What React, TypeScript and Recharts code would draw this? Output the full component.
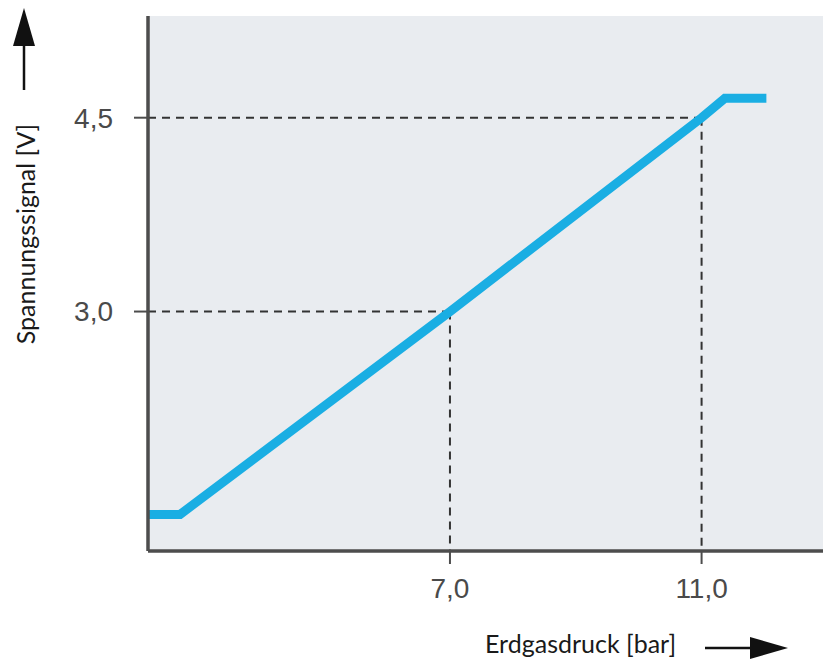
import React from "react";
import { LineChart, Line, XAxis, YAxis, CartesianGrid, ReferenceLine, Label } from "recharts";

// Erdgasdruck [bar] vs Spannungssignal [V]
const pressure = [2.2, 2.71, 7.0, 11.0, 11.37, 12.03];
const voltage = [1.43, 1.43, 3.0, 4.5, 4.65, 4.65];
const xTicks = [7.0, 11.0];
const yTicks = [3.0, 4.5];
const xDomain = [2.2, 12.93];
const yDomain = [1.147, 5.287];

const data = pressure.map((p, i) => ({ p, v: voltage[i] }));

const fmt = (v: number) => v.toFixed(1).replace(".", ",");

const YTitle = (props: any) => {
  const vb = props.viewBox || { x: 0, y: 16 };
  const cx = vb.x + 25;
  const cy = vb.y + 218;
  const ax = vb.x + 24;
  const top = vb.y - 8;
  return (
    <g>
      <text
        x={cx}
        y={cy}
        transform={`rotate(-90 ${cx} ${cy})`}
        textAnchor="middle"
        dominantBaseline="central"
        fontFamily="Lato, 'Noto Sans', sans-serif"
        fontSize={25}
        fill="#1a1a1a"
      >
        Spannungssignal [V]
      </text>
      <line x1={ax} y1={top + 36} x2={ax} y2={top + 82} stroke="#111" strokeWidth={2.5} />
      <polygon points={`${ax},${top} ${ax - 11},${top + 38} ${ax + 11},${top + 38}`} fill="#111" />
    </g>
  );
};

const XTitle = (props: any) => {
  const vb = props.viewBox || { x: 148, y: 551 };
  const tx = vb.x + 337;
  const ty = vb.y + 102;
  const ly = vb.y + 97;
  const lx = vb.x + 557;
  return (
    <g>
      <text
        x={tx}
        y={ty}
        textAnchor="start"
        fontFamily="Lato, 'Noto Sans', sans-serif"
        fontSize={25}
        fill="#1a1a1a"
      >
        Erdgasdruck [bar]
      </text>
      <line x1={lx} y1={ly} x2={lx + 48} y2={ly} stroke="#111" strokeWidth={2.5} />
      <polygon points={`${lx + 45},${ly - 11} ${lx + 83},${ly} ${lx + 45},${ly + 11}`} fill="#111" />
    </g>
  );
};

const dash = { stroke: "#333", strokeWidth: 2, strokeDasharray: "8 6" };

export default function App() {
  return (
    <div style={{ position: "absolute", left: 0, top: 0, width: 823, height: 661, background: "#ffffff" }}>
      <LineChart width={823} height={661} data={data} margin={{ top: 16, right: 0, bottom: 0, left: 0 }}>
        <CartesianGrid horizontal={false} vertical={false} fill="#e9ecf0" />
        <XAxis
          dataKey="p"
          type="number"
          domain={xDomain}
          ticks={xTicks}
          allowDataOverflow
          height={110}
          tickFormatter={fmt}
          tickSize={13}
          tickMargin={14}
          axisLine={{ stroke: "#4d4d4d", strokeWidth: 3.5 }}
          tickLine={{ stroke: "#4d4d4d", strokeWidth: 2 }}
          tick={{ fill: "#4a4a4a", fontSize: 28, fontFamily: "'Liberation Sans', Arial, sans-serif" }}
        >
          <Label content={<XTitle />} />
        </XAxis>
        <YAxis
          dataKey="v"
          type="number"
          domain={yDomain}
          ticks={yTicks}
          allowDataOverflow
          width={148}
          tickFormatter={fmt}
          tickSize={14}
          tickMargin={21}
          axisLine={{ stroke: "#4d4d4d", strokeWidth: 3.5 }}
          tickLine={{ stroke: "#4d4d4d", strokeWidth: 2 }}
          tick={{ fill: "#4a4a4a", fontSize: 28, fontFamily: "'Liberation Sans', Arial, sans-serif" }}
        >
          <Label content={<YTitle />} />
        </YAxis>
        <ReferenceLine segment={[{ x: xDomain[0], y: yTicks[0] }, { x: xTicks[0], y: yTicks[0] }]} {...dash} />
        <ReferenceLine segment={[{ x: xTicks[0], y: yTicks[0] }, { x: xTicks[0], y: yDomain[0] }]} {...dash} />
        <ReferenceLine segment={[{ x: xDomain[0], y: yTicks[1] }, { x: xTicks[1], y: yTicks[1] }]} {...dash} />
        <ReferenceLine segment={[{ x: xTicks[1], y: yTicks[1] }, { x: xTicks[1], y: yDomain[0] }]} {...dash} />
        <Line
          type="linear"
          dataKey="v"
          stroke="#1aaee3"
          strokeWidth={9}
          strokeLinejoin="miter"
          strokeLinecap="butt"
          dot={false}
          activeDot={false}
          isAnimationActive={false}
        />
      </LineChart>
    </div>
  );
}
